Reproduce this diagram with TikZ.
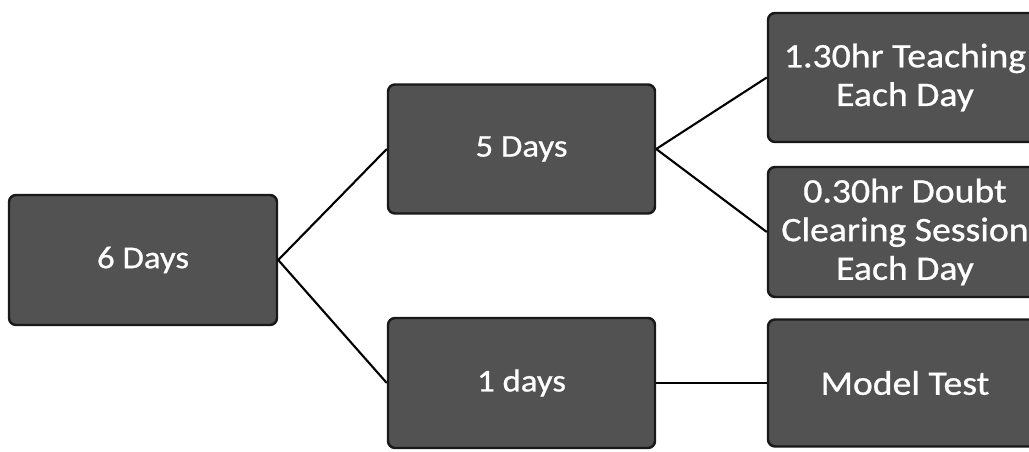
\documentclass[tikz,border=0pt]{standalone}
\usepackage{fontspec}
\setmainfont[FakeStretch=1.1,FakeBold=0.8]{Carlito}
\usetikzlibrary{positioning}

\begin{document}
\begin{tikzpicture}[
	every node/.style={font=\fontsize{18}{20}\selectfont},
	daybox/.style={draw=black!90, line width=1.4pt, fill=black!68, text=white,
		rounded corners=4pt, align=center, inner sep=0pt,
		minimum width=5.34cm, minimum height=2.58cm},
	planbox/.style={daybox, minimum width=5.48cm, font=\fontsize{19.5}{22}\selectfont},
	link/.style={draw=black, line width=1.2pt}]
	\useasboundingbox (0,0) rectangle (20.58,9.04);
	\clip (0,0) rectangle (20.58,9.04);
	% days
	\node[daybox, minimum width=5.36cm, minimum height=2.6cm] (six) at (2.86,3.84) {6 Days};
	\node[daybox] (five) at (10.43,6.06) {5 Days};
	\node[daybox, minimum height=2.6cm] (one) at (10.43,1.38) {1 days};
	% plan for each part
	\node[planbox] (teach) at (18.1,7.49) {1.30hr Teaching\\Each Day};
	\node[planbox, minimum height=2.6cm] (doubt) at (18.1,4.40) {0.30hr Doubt\\Clearing Session\\Each Day};
	\node[planbox, minimum height=2.54cm] (test) at (18.1,1.38) {Model Test};
	\draw[link] (six.east) -- (five.west);
	\draw[link] (six.east) -- (one.west);
	\draw[link] (five.east) -- (teach.west);
	\draw[link] (five.east) -- (doubt.west);
	\draw[link] (one.east) -- (test.west);
\end{tikzpicture}
\end{document}
